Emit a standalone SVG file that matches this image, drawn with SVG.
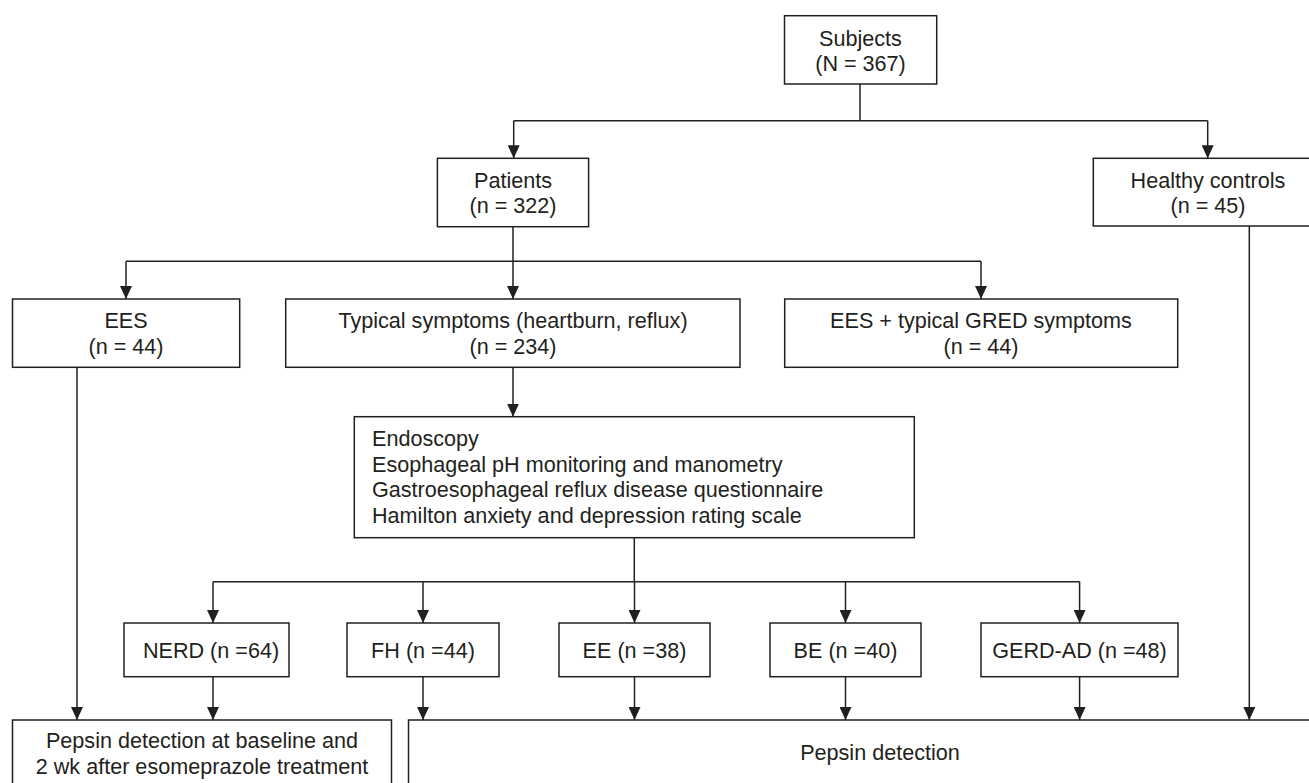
<svg xmlns="http://www.w3.org/2000/svg" width="1309" height="783" viewBox="0 0 1309 783">
<defs>
<style>
.box{fill:#fff;stroke:#231f20;stroke-width:1.5}
.ln{fill:none;stroke:#231f20;stroke-width:1.5}
.t{font-family:"Liberation Sans",Arial,sans-serif;font-size:21.6px;fill:#231f20;text-anchor:middle}
.tl{font-family:"Liberation Sans",Arial,sans-serif;font-size:21.6px;fill:#231f20;text-anchor:start}
</style>
<marker id="ah" viewBox="0 0 13 12" refX="13" refY="6" markerWidth="13" markerHeight="12" markerUnits="userSpaceOnUse" orient="auto">
<path d="M0,0 L13,6 L0,12 z" fill="#231f20"/>
</marker>
</defs>
<rect width="1309" height="783" fill="#fff"/>
<g id="connectors">
<path class="ln" d="M860,84 V120.7 M513.7,120.7 H1207.7"/>
<path class="ln" d="M513.7,120.7 V158.3" marker-end="url(#ah)"/>
<path class="ln" d="M1207.7,120.7 V158.3" marker-end="url(#ah)"/>
<path class="ln" d="M513,226.7 V261.3 M126,261.3 H981"/>
<path class="ln" d="M126,261.3 V299" marker-end="url(#ah)"/>
<path class="ln" d="M513,261.3 V299" marker-end="url(#ah)"/>
<path class="ln" d="M981,261.3 V299" marker-end="url(#ah)"/>
<path class="ln" d="M513,367.3 V416.7" marker-end="url(#ah)"/>
<path class="ln" d="M77,367.3 V720" marker-end="url(#ah)"/>
<path class="ln" d="M1249.3,226 V720" marker-end="url(#ah)"/>
<path class="ln" d="M634.3,537.7 V581.7 M213,581.7 H1079.6"/>
<path class="ln" d="M213,581.7 V623" marker-end="url(#ah)"/>
<path class="ln" d="M423,581.7 V623" marker-end="url(#ah)"/>
<path class="ln" d="M634.5,581.7 V623" marker-end="url(#ah)"/>
<path class="ln" d="M845.5,581.7 V623" marker-end="url(#ah)"/>
<path class="ln" d="M1079.6,581.7 V623" marker-end="url(#ah)"/>
<path class="ln" d="M213,676.7 V720" marker-end="url(#ah)"/>
<path class="ln" d="M423,676.7 V720" marker-end="url(#ah)"/>
<path class="ln" d="M634.5,676.7 V720" marker-end="url(#ah)"/>
<path class="ln" d="M845.5,676.7 V720" marker-end="url(#ah)"/>
<path class="ln" d="M1079.6,676.7 V720" marker-end="url(#ah)"/>
</g>
<g id="subjects">
<rect class="box" x="784.5" y="15.7" width="152.2" height="68.3"/>
<text class="t" x="860.5" y="45.5">Subjects</text>
<text class="t" x="860.5" y="71">(N = 367)</text>
</g>
<g id="patients">
<rect class="box" x="437.4" y="158.3" width="151.2" height="68.4"/>
<text class="t" x="513" y="187.5">Patients</text>
<text class="t" x="513" y="213">(n = 322)</text>
</g>
<g id="healthy">
<rect class="box" x="1093.3" y="158.3" width="230" height="67.7"/>
<text class="t" x="1208" y="187.5">Healthy controls</text>
<text class="t" x="1208" y="213">(n = 45)</text>
</g>
<g id="ees">
<rect class="box" x="12.5" y="299" width="227.2" height="68.3"/>
<text class="t" x="126" y="327.5">EES</text>
<text class="t" x="126" y="354">(n = 44)</text>
</g>
<g id="typical">
<rect class="box" x="285.7" y="299" width="454.3" height="68.3"/>
<text class="t" x="513" y="327.5">Typical symptoms (heartburn, reflux)</text>
<text class="t" x="513" y="354">(n = 234)</text>
</g>
<g id="ees-typical">
<rect class="box" x="784.7" y="299" width="393" height="68.3"/>
<text class="t" x="981" y="327.5">EES + typical GRED symptoms</text>
<text class="t" x="981" y="354">(n = 44)</text>
</g>
<g id="endoscopy">
<rect class="box" x="354.3" y="416.7" width="560" height="121"/>
<text class="tl" x="372" y="445.5">Endoscopy</text>
<text class="tl" x="372" y="471.5">Esophageal pH monitoring and manometry</text>
<text class="tl" x="372" y="497">Gastroesophageal reflux disease questionnaire</text>
<text class="tl" x="372" y="522.5">Hamilton anxiety and depression rating scale</text>
</g>
<g id="nerd">
<rect class="box" x="124" y="623" width="165" height="53.7"/>
<text class="t" x="211" y="657.5">NERD (n =64)</text>
</g>
<g id="fh">
<rect class="box" x="347" y="623" width="152" height="53.7"/>
<text class="t" x="423" y="657.5">FH (n =44)</text>
</g>
<g id="ee">
<rect class="box" x="559" y="623" width="151" height="53.7"/>
<text class="t" x="634.5" y="657.5">EE (n =38)</text>
</g>
<g id="be">
<rect class="box" x="770" y="623" width="151" height="53.7"/>
<text class="t" x="845.5" y="657.5">BE (n =40)</text>
</g>
<g id="gerd-ad">
<rect class="box" x="981" y="623" width="197" height="53.7"/>
<text class="t" x="1079.5" y="657.5">GERD-AD (n =48)</text>
</g>
<g id="pepsin-baseline">
<rect class="box" x="12.5" y="720" width="379" height="90"/>
<text class="t" x="202" y="748">Pepsin detection at baseline and</text>
<text class="t" x="202" y="774">2 wk after esomeprazole treatment</text>
</g>
<g id="pepsin">
<rect class="box" x="408.5" y="720" width="943" height="90"/>
<text class="t" x="880" y="760">Pepsin detection</text>
</g>
</svg>
